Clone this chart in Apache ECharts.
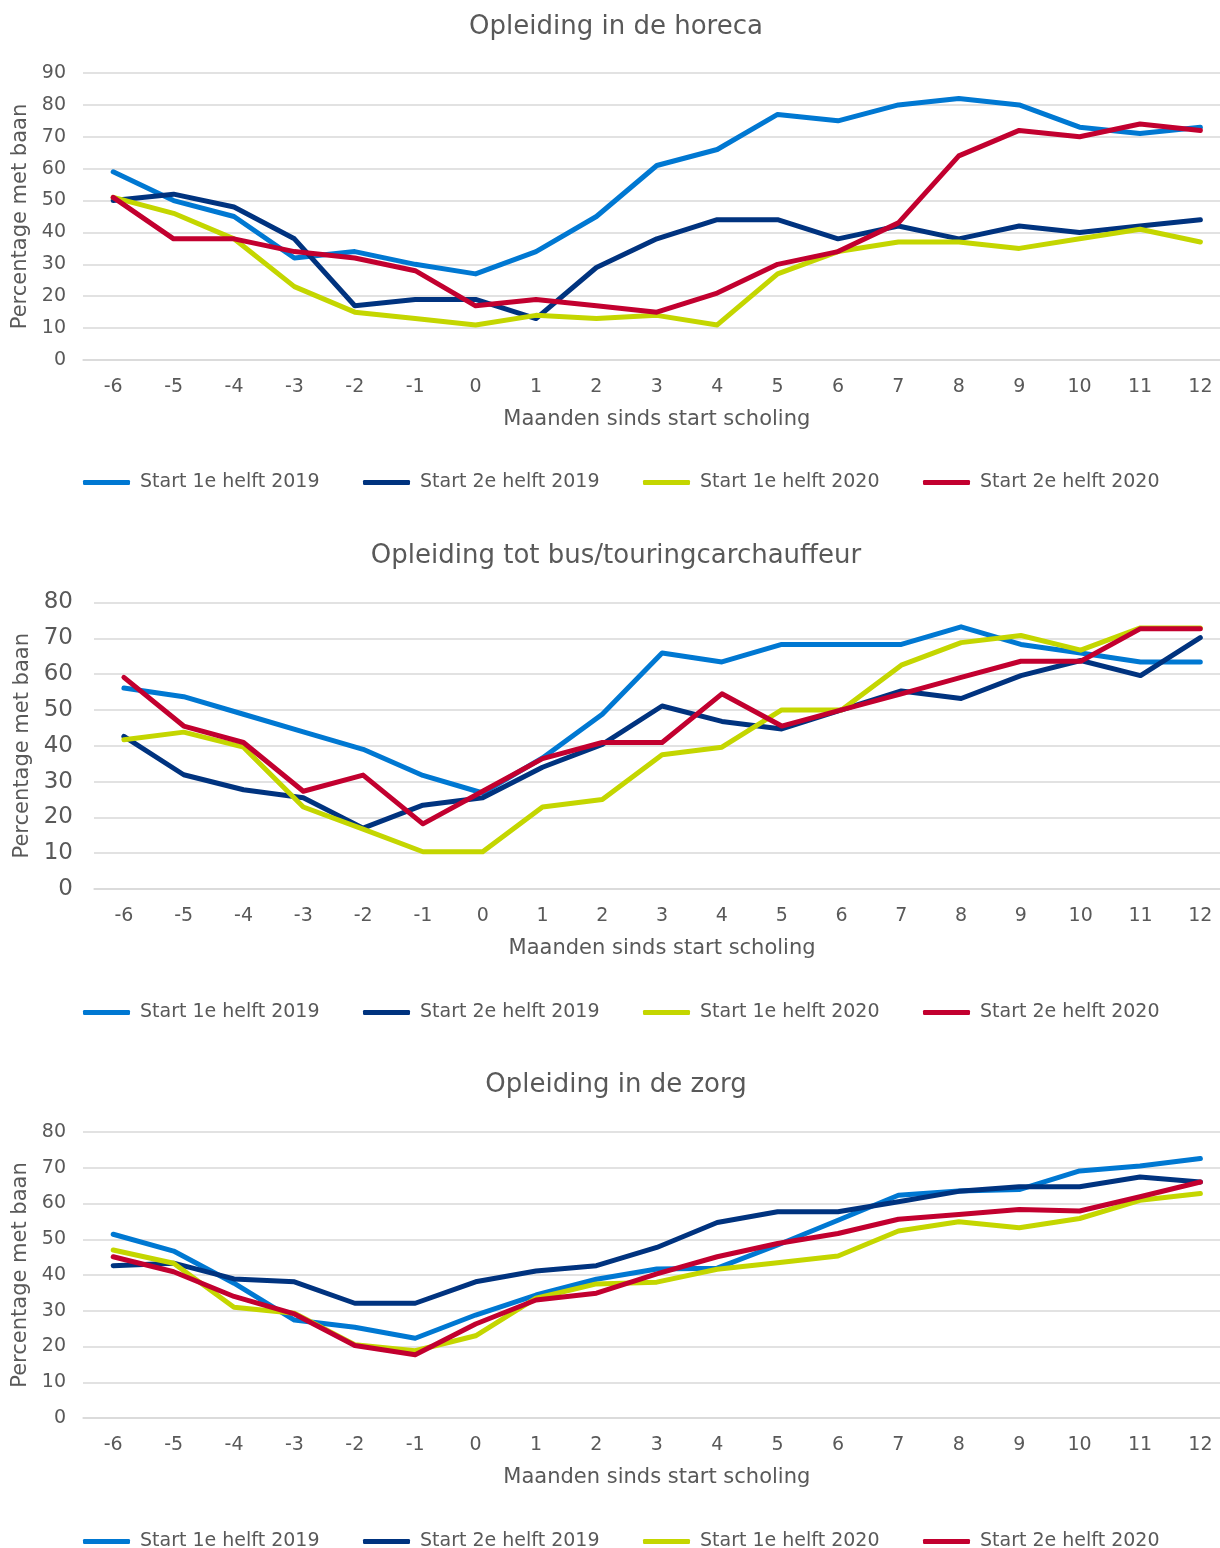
<!DOCTYPE html>
<html>
<head>
<meta charset="utf-8">
<script src="https://cdn.jsdelivr.net/npm/echarts@6/dist/echarts.min.js"></script>
<style>
html,body{margin:0;padding:0;background:#fff;overflow:hidden;}
#c{width:1232px;height:1548px;}
</style>
</head>
<body>
<div id="c"></div>
<script>
// ---- data ----
const months = ['-6','-5','-4','-3','-2','-1','0','1','2','3','4','5','6','7','8','9','10','11','12'];
const seriesNames = ['Start 1e helft 2019','Start 2e helft 2019','Start 1e helft 2020','Start 2e helft 2020'];
const chartTitles = ['Opleiding in de horeca','Opleiding tot bus/touringcarchauffeur','Opleiding in de zorg'];
const xAxisName = 'Maanden sinds start scholing';
const yAxisName = 'Percentage met baan';

// Opleiding in de horeca
const horeca19a = [59,50,45,32,34,30,27,34,45,61,66,77,75,80,82,80,73,71,73];
const horeca19b = [50,52,48,38,17,19,19,13,29,38,44,44,38,42,38,42,40,42,44];
const horeca20a = [51,46,38,23,15,13,11,14,13,14,11,27,34,37,37,35,38,41,37];
const horeca20b = [51,38,38,34,32,28,17,19,17,15,21,30,34,43,64,72,70,74,72];

// Opleiding tot bus/touringcarchauffeur
const bus19a = [56.1,53.7,48.8,43.9,39.0,31.7,26.8,36.6,48.8,65.9,63.4,68.3,68.3,68.3,73.2,68.3,65.9,63.4,63.4];
const bus19b = [42.6,31.9,27.7,25.5,17.0,23.4,25.5,34.0,40.4,51.1,46.8,44.7,50.0,55.3,53.2,59.6,63.8,59.6,70.2];
const bus20a = [41.7,43.8,39.6,22.9,16.7,10.4,10.4,22.9,25.0,37.5,39.6,50.0,50.0,62.5,68.8,70.8,66.7,72.9,72.9];
const bus20b = [59.1,45.5,40.9,27.3,31.8,18.2,27.3,36.4,40.9,40.9,54.5,45.5,50.0,54.5,59.1,63.6,63.6,72.7,72.7];

// Opleiding in de zorg
const zorg19a = [51.4,46.7,37.7,27.4,25.4,22.3,28.8,34.4,38.8,41.7,41.9,48.4,55.3,62.3,63.5,63.9,69.1,70.5,72.6];
const zorg19b = [42.6,43.3,38.9,38.1,32.1,32.1,38.1,41.1,42.6,47.7,54.7,57.7,57.7,60.5,63.4,64.7,64.7,67.4,66.0];
const zorg20a = [47.0,43.3,31.0,29.3,20.5,18.8,23.0,33.5,37.5,38.0,41.6,43.4,45.3,52.3,54.9,53.2,55.8,60.9,62.8];
const zorg20b = [45.1,40.9,34.0,29.1,20.3,17.7,26.3,33.0,34.9,40.3,45.1,48.8,51.6,55.6,56.9,58.3,57.9,61.9,66.0];

const yMax = [90, 80, 80];
const yInterval = 10;

// ---- styling ----
const colors = ['#0078D2','#00337F','#C4D600','#C2002F'];
const FONT = '"DejaVu Sans", Verdana, sans-serif';
const TXT = '#595959';
const GRID = '#D9D9D9';

const allData = [
  [horeca19a, horeca19b, horeca20a, horeca20b],
  [bus19a, bus19b, bus20a, bus20b],
  [zorg19a, zorg19b, zorg20a, zorg20b]
];

const layout = [
  {titleTop: 14, gridLeft: 83, gridW: 1147.6, gridTop: 73, gridH: 287, yFont: 19, yMargin: 17, yNameGap: 50, legendTop: 473},
  {titleTop: 543, gridLeft: 94, gridW: 1136.2, gridTop: 602.5, gridH: 286.5, yFont: 23, yMargin: 21, yNameGap: 61, legendTop: 1003},
  {titleTop: 1072, gridLeft: 83, gridW: 1147.6, gridTop: 1132, gridH: 286, yFont: 19, yMargin: 17, yNameGap: 50, legendTop: 1532}
];

const title = [], grid = [], xAxis = [], yAxis = [], series = [], legend = [];
const legendLefts = [83, 363, 643, 923];

layout.forEach((L, i) => {
  title.push({
    text: chartTitles[i], left: 'center', top: L.titleTop, padding: 0,
    textStyle: {fontFamily: FONT, fontSize: 26, fontWeight: 'normal', color: TXT}
  });
  grid.push({left: L.gridLeft, width: L.gridW, top: L.gridTop, height: L.gridH, containLabel: false});
  xAxis.push({
    type: 'category', gridIndex: i, data: months, boundaryGap: true,
    name: xAxisName, nameLocation: 'middle', nameGap: 49,
    nameTextStyle: {fontFamily: FONT, fontSize: 21, color: TXT},
    axisLine: {show: true, lineStyle: {color: GRID, width: 1.5}},
    axisTick: {show: false},
    axisLabel: {fontFamily: FONT, fontSize: 19, color: TXT, margin: 18, interval: 0}
  });
  yAxis.push({
    type: 'value', gridIndex: i, min: 0, max: yMax[i], interval: yInterval,
    name: yAxisName, nameLocation: 'middle', nameGap: L.yNameGap,
    nameTextStyle: {fontFamily: FONT, fontSize: 21, color: TXT},
    axisLine: {show: false}, axisTick: {show: false},
    axisLabel: {fontFamily: FONT, fontSize: L.yFont, color: TXT, margin: L.yMargin},
    splitLine: {show: true, lineStyle: {color: GRID, width: 1.5}}
  });
  allData[i].forEach((d, k) => {
    series.push({
      name: seriesNames[k], type: 'line', xAxisIndex: i, yAxisIndex: i,
      data: d, showSymbol: false, symbol: 'none', smooth: false,
      lineStyle: {color: colors[k], width: 5, cap: 'round', join: 'round'},
      itemStyle: {color: colors[k]},
      emphasis: {disabled: true}, animation: false
    });
    legend.push({
      data: [seriesNames[k]], left: legendLefts[k], top: L.legendTop, padding: 0,
      icon: 'roundRect', itemWidth: 47, itemHeight: 5,
      selectedMode: false,
      textStyle: {fontFamily: FONT, fontSize: 19, color: TXT, padding: [0, 0, 0, 5]}
    });
  });
});

const chart = echarts.init(document.getElementById('c'), null, {renderer: 'canvas'});
chart.setOption({
  animation: false,
  backgroundColor: '#ffffff',
  color: colors,
  title, grid, xAxis, yAxis, series, legend
});
</script>
</body>
</html>
